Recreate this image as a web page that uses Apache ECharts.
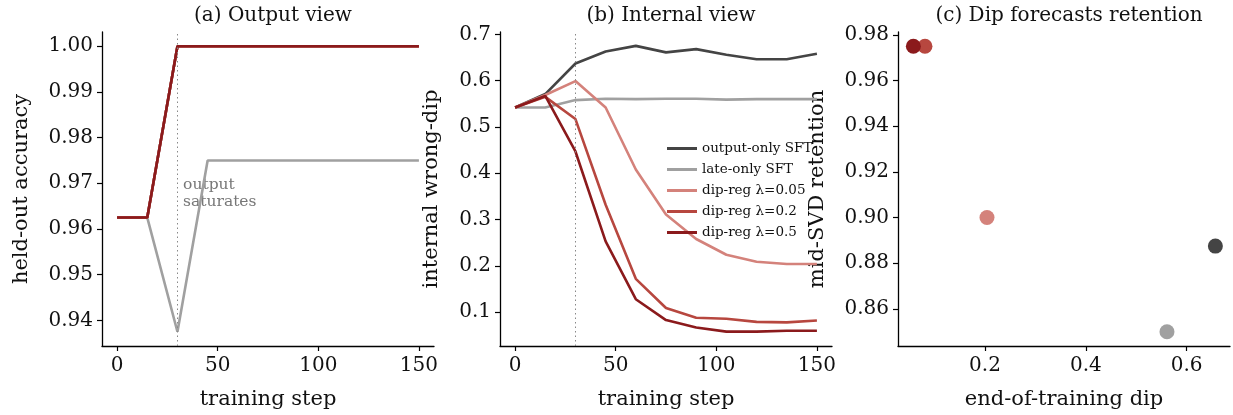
<!DOCTYPE html>
<html>
<head>
<meta charset="utf-8">
<script src="https://cdn.jsdelivr.net/npm/echarts@6/dist/echarts.min.js"></script>
<style>
  html, body { margin: 0; padding: 0; background: #fff; }
  #chart { width: 1233px; height: 415px; }
</style>
</head>
<body>
<div id="chart"></div>
<script>
// training steps shared by panels (a) and (b)
const steps = [0, 15, 30, 45, 60, 75, 90, 105, 120, 135, 150]

const seriesNames = ['output-only SFT', 'late-only SFT', 'dip-reg λ=0.05', 'dip-reg λ=0.2', 'dip-reg λ=0.5']
const colors = ['#444444', '#a0a0a0', '#d4827b', '#b7473f', '#8b1a1c']

// (a) held-out accuracy
const accOutputOnly = [0.9625, 0.9625, 1.0, 1.0, 1.0, 1.0, 1.0, 1.0, 1.0, 1.0, 1.0]
const accLateOnly = [0.9625, 0.9625, 0.9375, 0.975, 0.975, 0.975, 0.975, 0.975, 0.975, 0.975, 0.975]
const accDip005 = [0.9625, 0.9625, 1.0, 1.0, 1.0, 1.0, 1.0, 1.0, 1.0, 1.0, 1.0]
const accDip02 = [0.9625, 0.9625, 1.0, 1.0, 1.0, 1.0, 1.0, 1.0, 1.0, 1.0, 1.0]
const accDip05 = [0.9625, 0.9625, 1.0, 1.0, 1.0, 1.0, 1.0, 1.0, 1.0, 1.0, 1.0]

// (b) internal wrong-dip
const dipOutputOnly = [0.542, 0.571, 0.637, 0.663, 0.675, 0.661, 0.668, 0.656, 0.646, 0.646, 0.658]
const dipLateOnly = [0.542, 0.542, 0.558, 0.561, 0.560, 0.561, 0.561, 0.559, 0.560, 0.560, 0.560]
const dipDip005 = [0.542, 0.569, 0.599, 0.542, 0.408, 0.311, 0.258, 0.224, 0.209, 0.204, 0.204]
const dipDip02 = [0.542, 0.565, 0.517, 0.332, 0.172, 0.109, 0.088, 0.086, 0.079, 0.078, 0.082]
const dipDip05 = [0.542, 0.567, 0.447, 0.253, 0.128, 0.083, 0.067, 0.058, 0.058, 0.060, 0.060]

// (c) end-of-training dip vs mid-SVD retention (same order as seriesNames)
const endDip = [0.657, 0.561, 0.204, 0.081, 0.058]
const retention = [0.8875, 0.850, 0.900, 0.975, 0.975]

// tick labels
const stepTicks = [0, 50, 100, 150]
const accTicks = [0.94, 0.95, 0.96, 0.97, 0.98, 0.99, 1.00]
const wrongDipTicks = [0.1, 0.2, 0.3, 0.4, 0.5, 0.6, 0.7]
const endDipTicks = [0.2, 0.4, 0.6]
const retentionTicks = [0.86, 0.88, 0.90, 0.92, 0.94, 0.96, 0.98]

const accData = [accOutputOnly, accLateOnly, accDip005, accDip02, accDip05]
const dipData = [dipOutputOnly, dipLateOnly, dipDip005, dipDip02, dipDip05]

const FONT = 'DejaVu Serif'
const grids = [
  { left: 102, top: 32, width: 332, height: 315 },
  { left: 500, top: 32, width: 332, height: 315 },
  { left: 898, top: 32, width: 332, height: 315 }
]

function axis(gridIndex, min, max, ticks, digits, name, nameGap, isY) {
  return {
    type: 'value',
    gridIndex: gridIndex,
    min: min,
    max: max,
    name: name,
    nameLocation: 'middle',
    nameGap: nameGap,
    nameTextStyle: { fontFamily: FONT, fontSize: 21, color: '#111' },
    splitLine: { show: false },
    axisLine: { show: true, onZero: false, lineStyle: { color: '#000', width: 1.3 } },
    axisTick: { show: true, length: 5, inside: false, customValues: ticks, lineStyle: { color: '#000', width: 1.2 } },
    axisLabel: {
      customValues: ticks,
      fontFamily: FONT,
      fontSize: 20,
      color: '#111',
      margin: isY ? 9 : 10,
      formatter: v => digits === 0 ? String(Math.round(v)) : v.toFixed(digits)
    }
  }
}

function vline() {
  return {
    silent: true,
    symbol: 'none',
    label: { show: false },
    lineStyle: { color: '#888', type: [1.5, 3], width: 1 },
    data: [{ xAxis: 30 }]
  }
}

const series = []
seriesNames.forEach((name, i) => {
  series.push({
    name: name,
    type: 'line',
    xAxisIndex: 0,
    yAxisIndex: 0,
    data: steps.map((s, k) => [s, accData[i][k]]),
    showSymbol: false,
    symbol: 'none',
    lineStyle: { color: colors[i], width: 2.6 },
    itemStyle: { color: colors[i] },
    markLine: i === 0 ? vline() : undefined
  })
})
seriesNames.forEach((name, i) => {
  series.push({
    name: name,
    type: 'line',
    xAxisIndex: 1,
    yAxisIndex: 1,
    data: steps.map((s, k) => [s, dipData[i][k]]),
    showSymbol: false,
    symbol: 'none',
    lineStyle: { color: colors[i], width: 2.6 },
    itemStyle: { color: colors[i] },
    markLine: i === 0 ? vline() : undefined
  })
})
seriesNames.forEach((name, i) => {
  series.push({
    name: name,
    type: 'scatter',
    xAxisIndex: 2,
    yAxisIndex: 2,
    data: [[endDip[i], retention[i]]],
    symbolSize: 15,
    itemStyle: { color: colors[i], opacity: 1 }
  })
})

const chart = echarts.init(document.getElementById('chart'), null, { renderer: 'canvas' })
chart.setOption({
  backgroundColor: '#fff',
  animation: false,
  title: [
    { text: '(a) Output view', left: 268, top: 1, textAlign: 'center' },
    { text: '(b) Internal view', left: 666, top: 1, textAlign: 'center' },
    { text: '(c) Dip forecasts retention', left: 1064, top: 1, textAlign: 'center' }
  ].map(t => Object.assign(t, { textStyle: { fontFamily: FONT, fontSize: 20, fontWeight: 'normal', color: '#111' } })),
  grid: grids,
  legend: {
    data: seriesNames,
    orient: 'vertical',
    left: 662,
    top: 136,
    icon: 'rect',
    itemWidth: 30,
    itemHeight: 3,
    itemGap: 6,
    textStyle: { fontFamily: FONT, fontSize: 13.5, color: '#111', lineHeight: 15 }
  },
  xAxis: [
    axis(0, -7.5, 157.5, stepTicks, 0, 'training step', 43, false),
    axis(1, -7.5, 157.5, stepTicks, 0, 'training step', 43, false),
    axis(2, 0.0275, 0.686, endDipTicks, 1, 'end-of-training dip', 43, false)
  ],
  yAxis: [
    axis(0, 0.934375, 1.003125, accTicks, 2, 'held-out accuracy', 70, true),
    axis(1, 0.027, 0.705, wrongDipTicks, 1, 'internal wrong-dip', 58, true),
    axis(2, 0.84375, 0.98125, retentionTicks, 2, 'mid-SVD retention', 70, true)
  ],
  series: series
})

// annotation in panel (a)
const p = chart.convertToPixel({ gridIndex: 0 }, [32.8, 0.9714])
chart.setOption({
  graphic: [{
    type: 'text',
    left: p[0],
    top: p[1],
    style: {
      text: 'output\nsaturates',
      fontFamily: FONT,
      fontSize: 15.5,
      lineHeight: 17,
      fill: '#777'
    }
  }]
})
</script>
</body>
</html>
